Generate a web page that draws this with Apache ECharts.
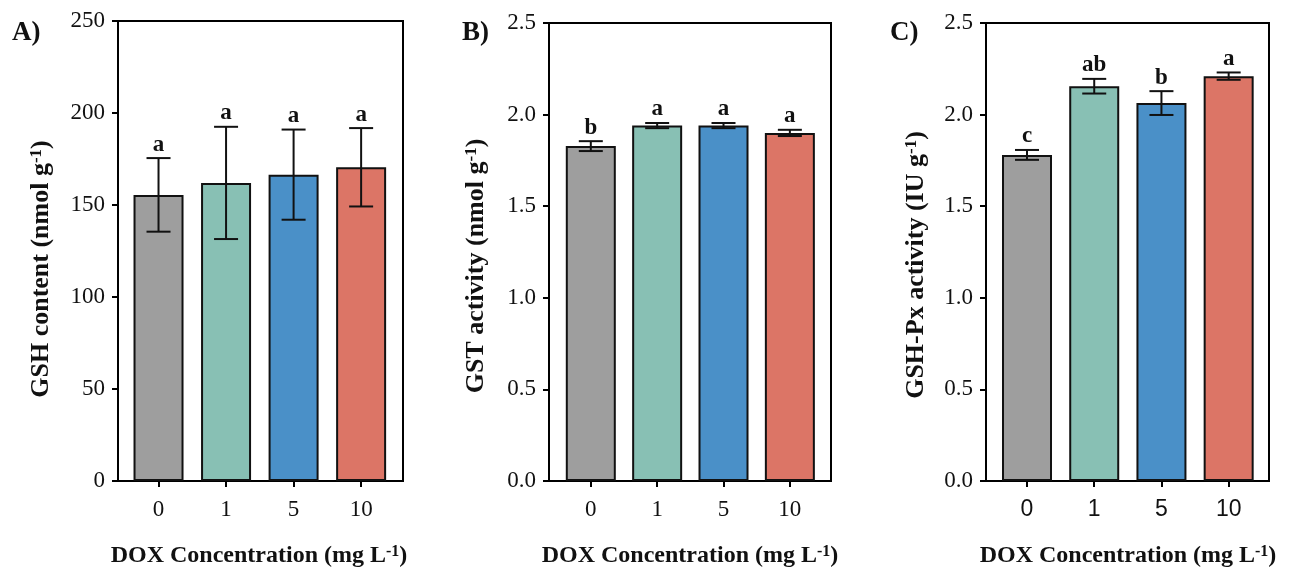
<!DOCTYPE html>
<html>
<head>
<meta charset="utf-8">
<script src="https://cdn.jsdelivr.net/npm/echarts@6/dist/echarts.min.js"></script>
<style>html,body{margin:0;padding:0;background:#fff;}#chart{width:1297px;height:570px;}</style>
</head>
<body>
<div id="chart"></div>
<script>
// ---- data ----
const categories = ['0', '1', '5', '10'];
const gshMean = [155.5, 162, 166.5, 170.5];
const gshErr = [20, 30.5, 24.5, 21.3];
const gshLetters = ['a', 'a', 'a', 'a'];
const gstMean = [1.828, 1.94, 1.94, 1.90];
const gstErr = [0.027, 0.014, 0.014, 0.017];
const gstLetters = ['b', 'a', 'a', 'a'];
const gpxMean = [1.78, 2.155, 2.063, 2.21];
const gpxErr = [0.027, 0.04, 0.065, 0.02];
const gpxLetters = ['c', 'ab', 'b', 'a'];
const barColors = ['#9e9e9e', '#88c0b4', '#4a90c8', '#dc7566'];
const panelLabels = ['A)', 'B)', 'C)'];
const yTitles = ['GSH content (nmol g', 'GST activity (nmol g', 'GSH-Px activity (IU g'];
const xTitle = 'DOX Concentration (mg L';

const SERIF = '"Liberation Serif","Times New Roman",serif';
const SANS = '"Liberation Sans",Arial,sans-serif';

const panels = [
  { mean: gshMean, err: gshErr, letters: gshLetters, grid: { left: 118, right: 1297 - 403, top: 21, bottom: 89 },
    xMin: -0.6, xMax: 3.62, yMax: 250, yInt: 50, dec: 0, xFont: SERIF },
  { mean: gstMean, err: gstErr, letters: gstLetters, grid: { left: 549, right: 1297 - 831, top: 23, bottom: 89 },
    xMin: -0.63, xMax: 3.62, yMax: 2.5, yInt: 0.5, dec: 1, xFont: SERIF },
  { mean: gpxMean, err: gpxErr, letters: gpxLetters, grid: { left: 986, right: 1297 - 1269, top: 23, bottom: 89 },
    xMin: -0.61, xMax: 3.6, yMax: 2.5, yInt: 0.5, dec: 1, xFont: SANS }
];

const grids = [], xAxes = [], yAxes = [], series = [];
panels.forEach((p, k) => {
  grids.push(Object.assign({ show: true, borderColor: '#000', borderWidth: 2, backgroundColor: 'transparent' }, p.grid));
  xAxes.push({
    type: 'value', gridIndex: k, min: p.xMin, max: p.xMax,
    axisLine: { show: true, onZero: false, lineStyle: { color: '#000', width: 2 } },
    axisTick: { show: true, customValues: [0, 1, 2, 3], length: 6, lineStyle: { color: '#000', width: 2 } },
    axisLabel: { customValues: [0, 1, 2, 3], formatter: v => categories[Math.round(v)], color: '#111',
      fontFamily: p.xFont, fontSize: 23, margin: 17 },
    splitLine: { show: false }
  });
  yAxes.push({
    type: 'value', gridIndex: k, min: 0, max: p.yMax, interval: p.yInt,
    axisLine: { show: true, onZero: false, lineStyle: { color: '#000', width: 2 } },
    axisTick: { show: true, length: 6, lineStyle: { color: '#000', width: 2 } },
    axisLabel: { formatter: v => v.toFixed(p.dec), color: '#111', fontFamily: SERIF, fontSize: 23, margin: 13 },
    splitLine: { show: false }
  });
  series.push({
    type: 'bar', xAxisIndex: k, yAxisIndex: k, barWidth: 50,
    data: p.mean.map((m, i) => ({ value: [i, m], itemStyle: { color: barColors[i] } })),
    itemStyle: { borderColor: '#111', borderWidth: 2 }
  });
  series.push({
    type: 'custom', xAxisIndex: k, yAxisIndex: k, z: 5,
    data: p.mean.map((m, i) => [i, m, p.err[i]]),
    encode: { x: 0, y: 1 },
    renderItem: (params, api) => {
      const i = params.dataIndex;
      const x = api.value(0), m = api.value(1), e = api.value(2);
      const top = api.coord([x, m + e]);
      const bot = api.coord([x, m - e]);
      const h = 12;
      const st = { stroke: '#111', lineWidth: 2 };
      return {
        type: 'group', children: [
          { type: 'line', shape: { x1: top[0], y1: top[1], x2: bot[0], y2: bot[1] }, style: st },
          { type: 'line', shape: { x1: top[0] - h, y1: top[1], x2: top[0] + h, y2: top[1] }, style: st },
          { type: 'line', shape: { x1: bot[0] - h, y1: bot[1], x2: bot[0] + h, y2: bot[1] }, style: st },
          { type: 'text', style: { text: p.letters[i], x: top[0], y: top[1] - 2, align: 'center', verticalAlign: 'bottom',
            font: 'bold 23px ' + SERIF, fill: '#111' } }
        ]
      };
    }
  });
});

const yTitlePos = [[41, 269], [476, 266], [916, 265]];
const xTitlePos = [[259, 556], [690, 556], [1128, 556]];
const panelPos = [[12, 33], [462, 33], [890, 33]];
const graphics = [];
panels.forEach((p, k) => {
  graphics.push({ type: 'text', x: panelPos[k][0], y: panelPos[k][1],
    style: { text: panelLabels[k], font: 'bold 27px ' + SERIF, fill: '#111', align: 'left', verticalAlign: 'middle' } });
  graphics.push({ type: 'text', x: yTitlePos[k][0], y: yTitlePos[k][1], rotation: Math.PI / 2,
    style: { text: '{t|' + yTitles[k] + '}{s|-1}{t|)}', align: 'center', verticalAlign: 'middle',
      rich: { t: { font: 'bold 26px ' + SERIF, fill: '#111' }, s: { font: 'bold 17px ' + SERIF, fill: '#111', verticalAlign: 'top', padding: [0, 0, 9, 0] } } } });
  graphics.push({ type: 'text', x: xTitlePos[k][0], y: xTitlePos[k][1],
    style: { text: '{t|' + xTitle + '}{s|-1}{t|)}', align: 'center', verticalAlign: 'middle',
      rich: { t: { font: 'bold 24px ' + SERIF, fill: '#111' }, s: { font: 'bold 16px ' + SERIF, fill: '#111', verticalAlign: 'top', padding: [0, 0, 9, 0] } } } });
});

const chart = echarts.init(document.getElementById('chart'));
chart.setOption({
  animation: false,
  backgroundColor: '#fff',
  grid: grids, xAxis: xAxes, yAxis: yAxes, series: series, graphic: graphics
});
</script>
</body>
</html>
